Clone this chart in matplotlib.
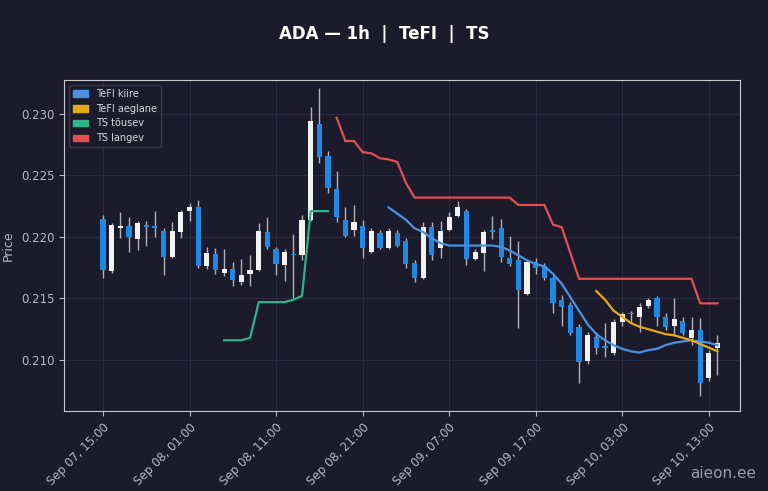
import numpy as np
import pandas as pd
import matplotlib
matplotlib.use("Agg")
import matplotlib.pyplot as plt
from matplotlib.patches import Patch

# OHLC, hourly from Sep 07 15:00
opens = [0.2215, 0.2172, 0.2207, 0.2209, 0.2198, 0.2210, 0.2209, 0.2205, 0.2184, 0.2204,
         0.2221, 0.2224, 0.2176, 0.2186, 0.2171, 0.2174, 0.2163, 0.2170, 0.2173, 0.2204,
         0.2190, 0.2177, 0.2186, 0.2185, 0.2214, 0.2292, 0.2266, 0.2239, 0.2214, 0.2206,
         0.2209, 0.2188, 0.2203, 0.2191, 0.2203, 0.2197, 0.2179, 0.2167, 0.2208, 0.2191,
         0.2206, 0.2217, 0.2221, 0.2182, 0.2187, 0.2206, 0.2207, 0.2183, 0.2181, 0.2154,
         0.2180, 0.2176, 0.2167, 0.2149, 0.2145, 0.2127, 0.2099, 0.2119, 0.2111, 0.2106,
         0.2131, 0.2138, 0.2135, 0.2144, 0.2150, 0.2135, 0.2128, 0.2132, 0.2118, 0.2124,
         0.2085, 0.2110]
closes = [0.2173, 0.2210, 0.2209, 0.2200, 0.2211, 0.2208, 0.2207, 0.2184, 0.2205, 0.2220,
          0.2224, 0.2176, 0.2187, 0.2173, 0.2174, 0.2165, 0.2169, 0.2173, 0.2205, 0.2192,
          0.2178, 0.2188, 0.2185, 0.2214, 0.2294, 0.2265, 0.2240, 0.2216, 0.2201, 0.2212,
          0.2191, 0.2205, 0.2191, 0.2205, 0.2193, 0.2178, 0.2167, 0.2208, 0.2185, 0.2205,
          0.2216, 0.2224, 0.2182, 0.2188, 0.2204, 0.2204, 0.2184, 0.2178, 0.2157, 0.2180,
          0.2175, 0.2167, 0.2146, 0.2143, 0.2122, 0.2098, 0.2120, 0.2110, 0.2110, 0.2131,
          0.2137, 0.2137, 0.2143, 0.2149, 0.2135, 0.2127, 0.2133, 0.2122, 0.2124, 0.2081,
          0.2106, 0.2114]
highs = [0.2218, 0.2211, 0.2220, 0.2216, 0.2213, 0.2213, 0.2221, 0.2207, 0.2212, 0.2222,
         0.2228, 0.2230, 0.2192, 0.2191, 0.2190, 0.2180, 0.2182, 0.2185, 0.2211, 0.2216,
         0.2192, 0.2190, 0.2202, 0.2218, 0.2306, 0.2321, 0.2270, 0.2254, 0.2224, 0.2226,
         0.2214, 0.2207, 0.2206, 0.2207, 0.2206, 0.2199, 0.2181, 0.2212, 0.2212, 0.2213,
         0.2220, 0.2229, 0.2223, 0.2190, 0.2206, 0.2217, 0.2215, 0.2201, 0.2197, 0.2182,
         0.2183, 0.2179, 0.2168, 0.2153, 0.2147, 0.2129, 0.2123, 0.2123, 0.2130, 0.2133,
         0.2139, 0.2140, 0.2146, 0.2150, 0.2152, 0.2138, 0.2150, 0.2135, 0.2135, 0.2134,
         0.2108, 0.2120]
lows = [0.2167, 0.2171, 0.2199, 0.2188, 0.2189, 0.2193, 0.2200, 0.2169, 0.2183, 0.2199,
        0.2213, 0.2175, 0.2174, 0.2170, 0.2168, 0.2160, 0.2161, 0.2160, 0.2172, 0.2190,
        0.2169, 0.2164, 0.2150, 0.2181, 0.2213, 0.2260, 0.2236, 0.2212, 0.2200, 0.2201,
        0.2183, 0.2187, 0.2190, 0.2190, 0.2192, 0.2175, 0.2163, 0.2166, 0.2181, 0.2183,
        0.2205, 0.2216, 0.2177, 0.2181, 0.2172, 0.2198, 0.2180, 0.2176, 0.2126, 0.2153,
        0.2170, 0.2165, 0.2138, 0.2128, 0.2120, 0.2081, 0.2097, 0.2105, 0.2102, 0.2104,
        0.2128, 0.2131, 0.2123, 0.2142, 0.2128, 0.2124, 0.2120, 0.2120, 0.2112, 0.2071,
        0.2083, 0.2088]

# indicator lines: (start index, values)
ts_up_start = 14
ts_up = [0.2116, 0.2116, 0.2116, 0.2118, 0.2147, 0.2147, 0.2147, 0.2147, 0.2149, 0.2152,
         0.2221, 0.2221, 0.2221]
ts_down_start = 27
ts_down = [0.2297, 0.2278, 0.2278, 0.2269, 0.2268, 0.2264, 0.2263, 0.2261, 0.2244, 0.2232,
           0.2232, 0.2232, 0.2232, 0.2232, 0.2232, 0.2232, 0.2232, 0.2232, 0.2232, 0.2232,
           0.2232, 0.2226, 0.2226, 0.2226, 0.2226, 0.2210, 0.2208, 0.2187, 0.2166, 0.2166,
           0.2166, 0.2166, 0.2166, 0.2166, 0.2166, 0.2166, 0.2166, 0.2166, 0.2166, 0.2166,
           0.2166, 0.2166, 0.2146, 0.2146, 0.2146]
tefi_fast_start = 33
tefi_fast = [0.2224, 0.2219, 0.2214, 0.2207, 0.2204, 0.2199, 0.2195, 0.2193, 0.2193, 0.2193,
             0.2193, 0.2193, 0.2193, 0.2192, 0.2189, 0.2185, 0.2181, 0.2178, 0.2176, 0.2170,
             0.2162, 0.2151, 0.2140, 0.2129, 0.2121, 0.2116, 0.2112, 0.2109, 0.2107, 0.2106,
             0.2108, 0.2109, 0.2112, 0.2114, 0.2115, 0.2116, 0.2115, 0.2114, 0.2112]
tefi_slow_start = 57
tefi_slow = [0.2156, 0.2149, 0.2140, 0.2135, 0.2130, 0.2127, 0.2125, 0.2123, 0.2121, 0.2120,
             0.2118, 0.2116, 0.2113, 0.2110, 0.2107]

times = pd.date_range("2025-09-07 15:00", periods=len(opens), freq="h")

BG = "#1b1b2b"
UP = "#f2f2f2"
DOWN = "#1e88e5"
C_FAST = "#4a90e2"
C_SLOW = "#e6a817"
C_UP = "#2fb38c"
C_DOWN = "#e05252"

fig = plt.figure(figsize=(7.68, 4.91), dpi=100, facecolor=BG)
ax = fig.add_axes([64 / 768, 80 / 491, 676 / 768, 331 / 491], facecolor=BG)

x = np.arange(len(opens))
for i in x:
    o, c, h, l = opens[i], closes[i], highs[i], lows[i]
    col = UP if c >= o else DOWN
    ax.vlines(i, l, h, color="#b0b0b8", linewidth=1.0, zorder=2)
    body = max(abs(c - o), 0.00003)
    ax.bar(i, body, bottom=min(o, c), width=0.6, color=col, zorder=3)

def plot_line(start, vals, color):
    ax.plot(np.arange(start, start + len(vals)), vals, color=color, linewidth=1.6, zorder=4)

plot_line(tefi_fast_start, tefi_fast, C_FAST)
plot_line(tefi_slow_start, tefi_slow, C_SLOW)
plot_line(ts_up_start, ts_up, C_UP)
plot_line(ts_down_start, ts_down, C_DOWN)

ax.set_xlim(-4.5, 73.6)
ax.set_ylim(0.20585, 0.23276)
ax.set_yticks([0.210, 0.215, 0.220, 0.225, 0.230])
ax.yaxis.set_major_formatter(matplotlib.ticker.FormatStrFormatter("%.3f"))
tick_idx = list(range(0, len(opens), 10))
ax.set_xticks(tick_idx)
ax.set_xticklabels([times[i].strftime("%b %d, %H:%M") for i in tick_idx],
                   rotation=45, ha="right", rotation_mode="anchor")
ax.tick_params(colors="#b8b8c4", labelsize=8.5)
ax.grid(True, color="#2c2c40", linewidth=0.8)
ax.set_axisbelow(True)
for s in ax.spines.values():
    s.set_color("#c8c8d0")
ax.set_ylabel("Price", color="#b8b8c4", fontsize=9)

handles = [Patch(color=C_FAST, label="TeFI kiire"), Patch(color=C_SLOW, label="TeFI aeglane"),
           Patch(color=C_UP, label="TS tõusev"), Patch(color=C_DOWN, label="TS langev")]
leg = ax.legend(handles=handles, loc="upper left", fontsize=7, facecolor=BG,
                edgecolor="#44445a", labelcolor="#d8d8e0", handlelength=1.6)

fig.suptitle("ADA — 1h  |  TeFI  |  TS", color="white", fontsize=12, fontweight="bold", y=0.95)
fig.text(0.985, 0.02, "aieon.ee", color="#9a9aa8", fontsize=11, ha="right", va="bottom")

fig.savefig("out.png", dpi=100, facecolor=BG)
